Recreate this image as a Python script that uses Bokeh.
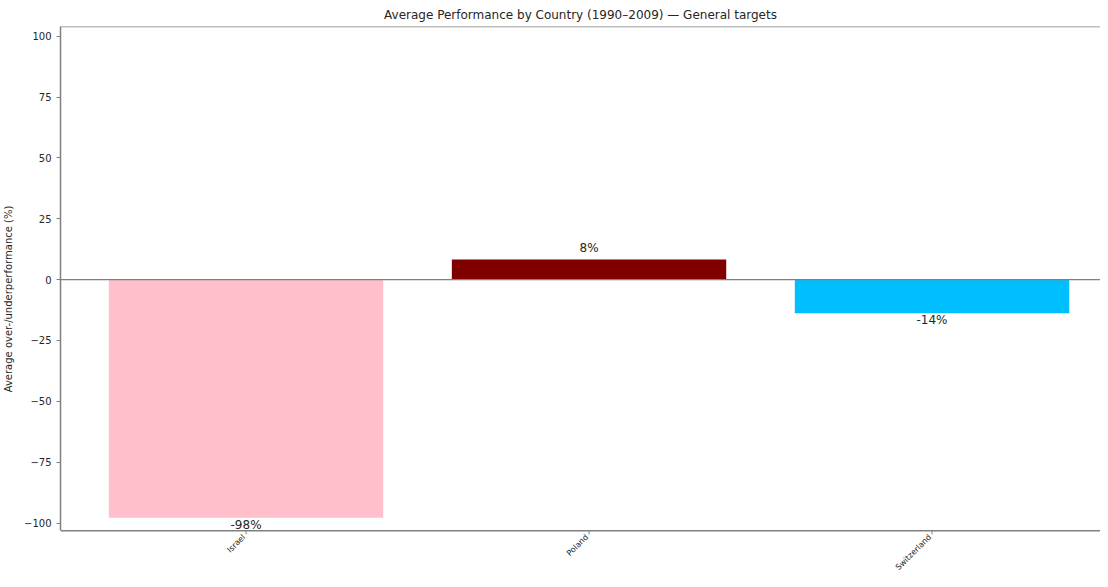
import math
from bokeh.plotting import figure
from bokeh.models import Range1d, Span, FixedTicker, CustomJSTickFormatter, ColumnDataSource
from bokeh.core.properties import value
from bokeh.embed import file_html
from bokeh.resources import INLINE

# ---- data ----
countries = ["Israel", "Poland", "Switzerland"]
performance = [-97.8, 8.3, -13.8]
bar_colors = ["#FFC0CB", "#800000", "#00BFFF"]
y_ticks = [-100, -75, -50, -25, 0, 25, 50, 75, 100]
title_text = "Average Performance by Country (1990\u20132009) \u2014 General targets"
y_label = "Average over-/underperformance (%)"

FONT = "DejaVu Sans"
SPINE = "#808080"
TXT = "#262626"

# layout constants (pixels inside the figure; frame spans x 54..1091, y 19..562)
WIDTH, HEIGHT = 1100, 571
FRAME_LEFT, FRAME_RIGHT = 54, 1091
FRAME_TOP, FRAME_BOTTOM = 19, 562
PX_PER_UNIT_X = 342.0
PX_PER_UNIT_Y = 2.4252
ZERO_PX = 271.2
FIRST_CENTER_PX = 239.0

X_MIN = -(FIRST_CENTER_PX - FRAME_LEFT) / PX_PER_UNIT_X
X_MAX = X_MIN + (FRAME_RIGHT - FRAME_LEFT) / PX_PER_UNIT_X
Y_MAX = (ZERO_PX - FRAME_TOP) / PX_PER_UNIT_Y
Y_MIN = -103.2
Y_CANVAS_BOTTOM = -(FRAME_BOTTOM - ZERO_PX) / PX_PER_UNIT_Y

x_pos = list(range(len(countries)))
value_labels = [f"{v:.0f}%" for v in performance]

p = figure(width=WIDTH, height=HEIGHT, output_backend="svg", toolbar_location=None,
           x_range=Range1d(X_MIN, X_MAX), y_range=Range1d(Y_CANVAS_BOTTOM, Y_MAX),
           min_border_left=FRAME_LEFT, min_border_right=0, min_border_top=FRAME_TOP,
           min_border_bottom=0, x_axis_location=None, title=title_text)
p.outline_line_color = None
p.grid.visible = False
p.background_fill_color = "white"
p.border_fill_color = "white"

p.title.align = "center"
p.title.text_font = FONT
p.title.text_font_size = "12px"
p.title.text_font_style = "normal"
p.title.text_color = TXT
p.title.offset = 17
p.title.standoff = 10

src = ColumnDataSource(dict(
    x=x_pos, top=performance, color=bar_colors, label=value_labels,
    vbase=["top" if v < 0 else "bottom" for v in performance],
    yoff=[0 if v < 0 else -4 for v in performance],
    axis_y=[Y_MIN] * len(x_pos),
    tick_y=[Y_MIN - 3.5 / PX_PER_UNIT_Y] * len(x_pos),
    name=countries,
))
p.vbar(x="x", top="top", bottom=0, width=0.8, fill_color="color",
       line_color=None, source=src)

p.text(x="x", y="top", text="label", text_baseline="vbase", y_offset="yoff",
       text_align="center", text_font_size="12px", text_font=value(FONT),
       text_color=TXT, source=src)

# zero line, top and bottom spines
p.add_layout(Span(location=0, dimension="width", line_color=SPINE, line_width=1.2))
p.add_layout(Span(location=Y_MAX, dimension="width", line_color=SPINE, line_width=1.5))
p.add_layout(Span(location=Y_MIN, dimension="width", line_color=SPINE, line_width=1.5))

# x ticks and rotated category labels
p.segment(x0="x", y0="axis_y", x1="x", y1="tick_y", line_color=SPINE,
          line_width=1, source=src)
p.text(x="x", y="axis_y", text="name", angle=math.pi / 4, text_align="right",
       text_baseline="middle", x_offset=-2, y_offset=5,
       text_font=value(FONT), text_font_size="8px", text_color=TXT, source=src)

# y axis
yax = p.yaxis[0]
yax.bounds = (Y_MIN, Y_MAX)
yax.ticker = FixedTicker(ticks=y_ticks)
yax.formatter = CustomJSTickFormatter(
    code="return tick < 0 ? '\\u2212' + Math.abs(tick) : String(tick);")
yax.axis_label = y_label
yax.axis_label_text_font = FONT
yax.axis_label_text_font_size = "10px"
yax.axis_label_text_font_style = "normal"
yax.axis_label_text_color = TXT
yax.axis_label_standoff = 7
yax.major_label_text_font = FONT
yax.major_label_text_font_size = "10px"
yax.major_label_text_color = TXT
yax.major_label_standoff = 5
yax.major_tick_in = 0
yax.major_tick_out = 4
yax.minor_tick_line_color = None
yax.axis_line_color = SPINE
yax.axis_line_width = 1.5
yax.major_tick_line_color = SPINE

open("out.html", "w").write(file_html(p, INLINE))
